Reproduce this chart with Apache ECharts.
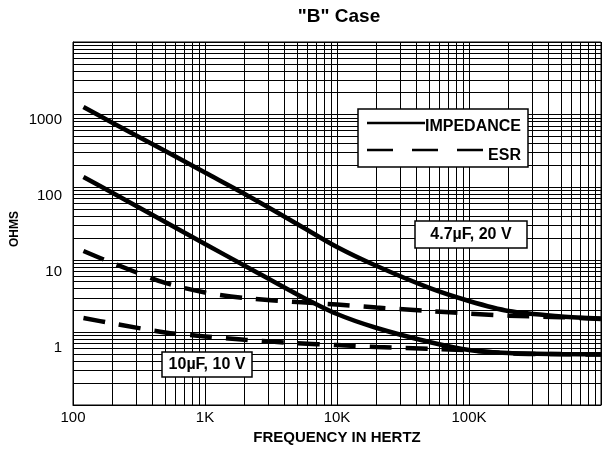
<!DOCTYPE html>
<html>
<head>
<meta charset="utf-8">
<script src="https://cdn.jsdelivr.net/npm/echarts@6/dist/echarts.min.js"></script>
<style>
  html, body { margin: 0; padding: 0; background: #fff; }
  #chart { width: 605px; height: 450px; }
</style>
</head>
<body>
<div id="chart"></div>
<script>
  const freq = [120, 200, 500, 1000, 2000, 5000, 10000, 20000, 50000, 100000, 200000, 500000, 1000000]
  // 4.7uF, 20V
  const imp47 = [1273, 766, 315, 159, 80.6, 31.1, 15.0, 8.2, 4.1, 2.71, 1.97, 1.66, 1.55]
  const esr47 = [13.2, 9.0, 4.8, 3.55, 2.98, 2.62, 2.42, 2.2, 1.97, 1.82, 1.7, 1.62, 1.53]
  // 10uF, 10V
  const imp10 = [138, 83.2, 33.2, 16.5, 8.3, 3.33, 1.79, 1.15, 0.738, 0.573, 0.52, 0.504, 0.5]
  const esr10 = [1.58, 1.33, 1.0, 0.88, 0.79, 0.71, 0.67, 0.63, 0.596, 0.565, 0.515, 0.5, 0.495]

  const xTickLabels = { 100: '100', 1000: '1K', 10000: '10K', 100000: '100K' }
  const yTickLabels = { 1: '1', 10: '10', 100: '100', 1000: '1000' }
  // the printed y labels sit a little below their grid lines
  const yLabelStyle = { 1: 'd', 10: 'c', 100: 'b', 1000: 'a' }

  const font = 'Liberation Sans, Arial, sans-serif'

  function pairs(vals) {
    return freq.map((f, i) => [f, vals[i]])
  }

  // minor log grid lines 2..9 in every decade
  function minors(from, to) {
    const out = []
    for (let d = from; d < to; d *= 10) {
      for (let k = 2; k <= 9; k++) out.push(d * k)
    }
    return out
  }
  const gridX = minors(100, 1000000).map(v => ({ xAxis: v }))
  const gridY = minors(0.1, 10000).map(v => ({ yAxis: v }))

  const myChart = echarts.init(document.getElementById('chart'))

  const curve = {
    type: 'line',
    smooth: 0.3,
    showSymbol: false,
    silent: true,
    z: 5,
    animation: false
  }

  const option = {
    animation: false,
    grid: {
      left: 73,
      right: 4,
      top: 42,
      bottom: 45,
      show: true,
      borderColor: '#000',
      borderWidth: 1
    },
    xAxis: {
      type: 'log',
      logBase: 10,
      min: 100,
      max: 1000000,
      name: 'FREQUENCY IN HERTZ',
      nameLocation: 'middle',
      nameGap: 20,
      nameTextStyle: { color: '#000', fontWeight: 'bold', fontSize: 15, fontFamily: font },
      axisLine: { lineStyle: { color: '#000', width: 1 } },
      axisTick: { show: false },
      axisLabel: {
        color: '#000',
        fontSize: 15,
        fontFamily: font,
        margin: 5,
        formatter: v => xTickLabels[Math.round(v)] || ''
      },
      splitLine: { show: true, lineStyle: { color: '#000', width: 1 } }
    },
    yAxis: {
      type: 'log',
      logBase: 10,
      min: 0.1,
      max: 10000,
      axisLine: { lineStyle: { color: '#000', width: 1 } },
      axisTick: { show: false },
      axisLabel: {
        color: '#000',
        fontSize: 15,
        fontFamily: font,
        margin: 11,
        formatter: v => {
          const k = +v.toPrecision(3)
          return yTickLabels[k] ? '{' + yLabelStyle[k] + '|' + yTickLabels[k] + '}' : ''
        },
        rich: {
          a: { fontSize: 15, fontFamily: font, color: '#000', padding: [10, 0, 0, 0] },
          b: { fontSize: 15, fontFamily: font, color: '#000', padding: [18, 0, 0, 0] },
          c: { fontSize: 15, fontFamily: font, color: '#000', padding: [24, 0, 0, 0] },
          d: { fontSize: 15, fontFamily: font, color: '#000', padding: [30, 0, 0, 0] }
        }
      },
      splitLine: { show: true, lineStyle: { color: '#000', width: 1 } }
    },
    series: [
      {
        // only carries the minor grid lines
        type: 'line',
        data: [],
        silent: true,
        z: 1,
        markLine: {
          silent: true,
          symbol: ['none', 'none'],
          label: { show: false },
          lineStyle: { color: '#000', width: 1, type: 'solid' },
          animation: false,
          data: gridX.concat(gridY)
        }
      },
      Object.assign({}, curve, {
        name: 'IMPEDANCE 4.7uF',
        data: pairs(imp47),
        lineStyle: { color: '#000', width: 4.5 }
      }),
      Object.assign({}, curve, {
        name: 'ESR 4.7uF',
        data: pairs(esr47),
        lineStyle: { color: '#000', width: 4.5, type: [22, 14] }
      }),
      Object.assign({}, curve, {
        name: 'IMPEDANCE 10uF',
        data: pairs(imp10),
        lineStyle: { color: '#000', width: 4.5 }
      }),
      Object.assign({}, curve, {
        name: 'ESR 10uF',
        data: pairs(esr10),
        lineStyle: { color: '#000', width: 4.5, type: [22, 14] }
      })
    ],
    graphic: [
      {
        type: 'text', x: 339, y: 17, z: 10,
        style: { text: '"B" Case', font: 'bold 19px ' + font, fill: '#000',
          textAlign: 'center', textVerticalAlign: 'middle', align: 'center', verticalAlign: 'middle' }
      },
      {
        type: 'text', x: 15, y: 229, rotation: Math.PI / 2, z: 10,
        style: { text: 'OHMS', font: 'bold 12px ' + font, fill: '#000',
          textAlign: 'center', textVerticalAlign: 'middle', align: 'center', verticalAlign: 'middle' }
      },
      // legend box
      {
        type: 'rect', z: 10,
        shape: { x: 358, y: 109, width: 170, height: 58 },
        style: { fill: '#fff', stroke: '#000', lineWidth: 1.5 }
      },
      {
        type: 'line', z: 11,
        shape: { x1: 367, y1: 123, x2: 425, y2: 123 },
        style: { stroke: '#000', lineWidth: 2.5 }
      },
      {
        type: 'text', x: 521, y: 127, z: 11,
        style: { text: 'IMPEDANCE', font: 'bold 16px ' + font, fill: '#000',
          textAlign: 'right', textVerticalAlign: 'middle', align: 'right', verticalAlign: 'middle' }
      },
      {
        type: 'line', z: 11,
        shape: { x1: 367, y1: 150, x2: 483, y2: 150 },
        style: { stroke: '#000', lineWidth: 2.5, lineDash: [26, 19] }
      },
      {
        type: 'text', x: 521, y: 156, z: 11,
        style: { text: 'ESR', font: 'bold 16px ' + font, fill: '#000',
          textAlign: 'right', textVerticalAlign: 'middle', align: 'right', verticalAlign: 'middle' }
      },
      // capacitor labels
      {
        type: 'rect', z: 10,
        shape: { x: 415, y: 221, width: 112, height: 27 },
        style: { fill: '#fff', stroke: '#000', lineWidth: 1.5 }
      },
      {
        type: 'text', x: 471, y: 235, z: 11,
        style: { text: '4.7µF, 20 V', font: 'bold 16px ' + font, fill: '#000',
          textAlign: 'center', textVerticalAlign: 'middle', align: 'center', verticalAlign: 'middle' }
      },
      {
        type: 'rect', z: 10,
        shape: { x: 162, y: 352, width: 90, height: 25 },
        style: { fill: '#fff', stroke: '#000', lineWidth: 1.5 }
      },
      {
        type: 'text', x: 207, y: 365, z: 11,
        style: { text: '10µF, 10 V', font: 'bold 16px ' + font, fill: '#000',
          textAlign: 'center', textVerticalAlign: 'middle', align: 'center', verticalAlign: 'middle' }
      }
    ]
  }

  myChart.setOption(option)
  window.addEventListener('resize', function() {
    myChart.resize()
  })
</script>
</body>
</html>
